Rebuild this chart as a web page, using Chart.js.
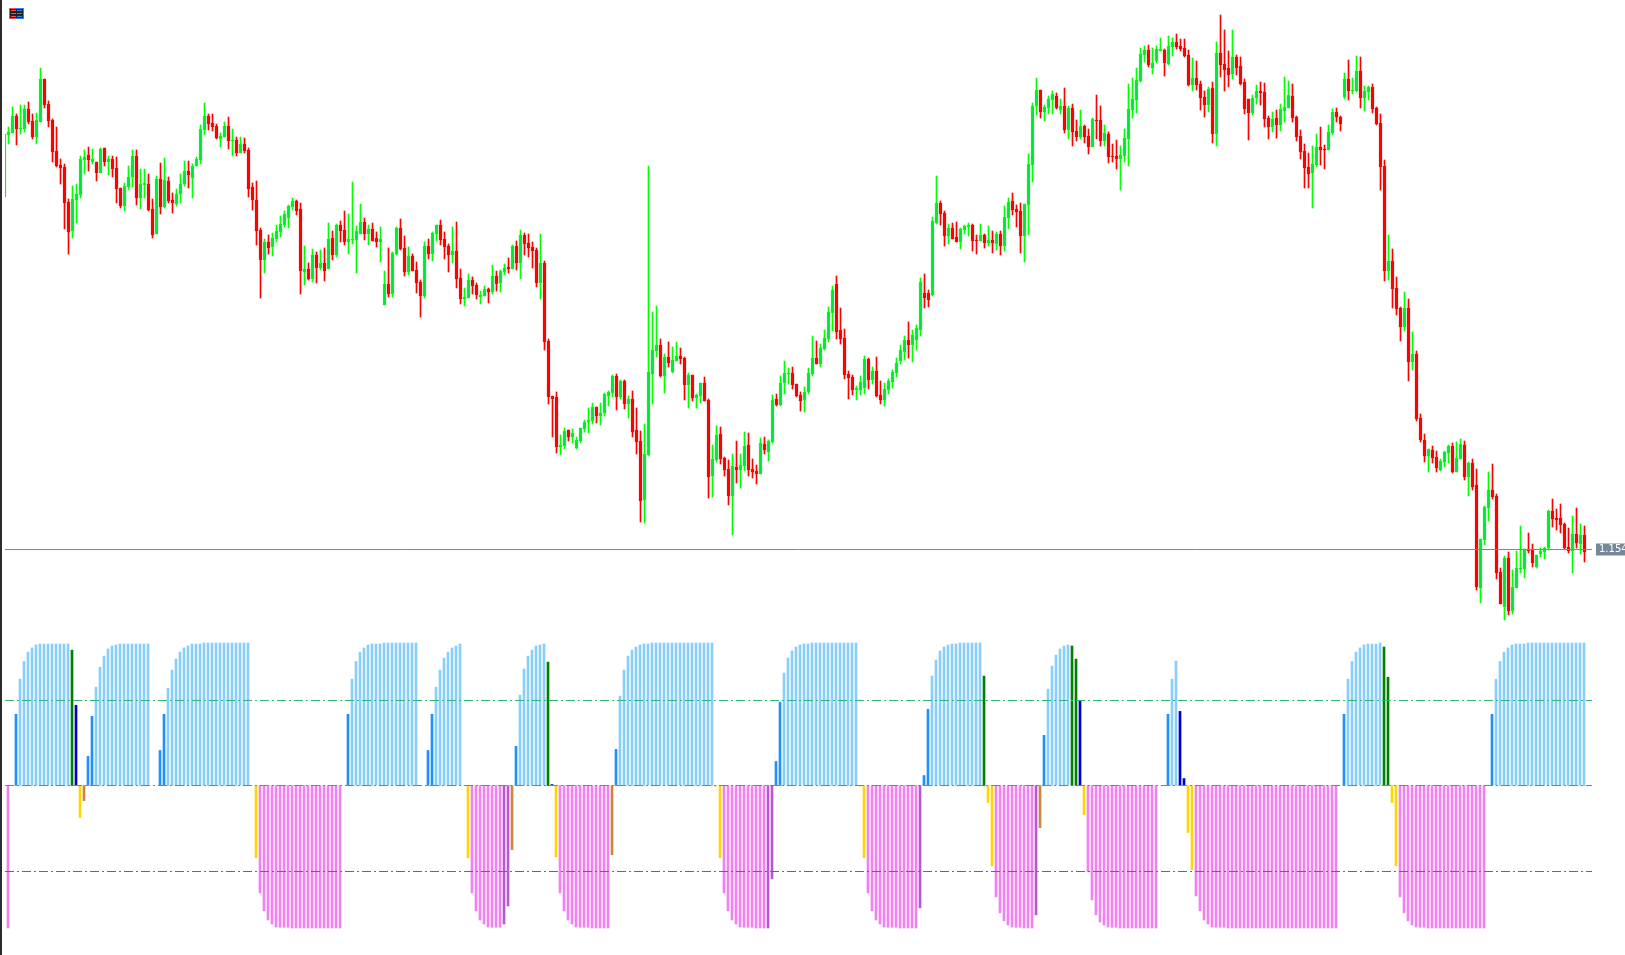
<!DOCTYPE html>
<html>
<head>
<meta charset="utf-8">
<title>Candles with oscillator histogram</title>
<script src="https://cdn.jsdelivr.net/npm/chart.js@4/dist/chart.umd.min.js"></script>
<style>
html,body{margin:0;padding:0;background:#fff;overflow:hidden}
#wrap{position:relative;width:1625px;height:955px}
#edge{position:absolute;left:0;top:0;width:2px;height:955px;background:#2b2b2b}
#icon{position:absolute;left:9px;top:8px}
canvas{display:block}
</style>
</head>
<body>
<div id="wrap">
<canvas id="c" width="1625" height="955"></canvas>
<div id="edge"></div>
<svg id="icon" width="15" height="11" viewBox="0 0 15 11">
<rect width="8" height="11" fill="#ff4a4a"/><rect x="7" width="8" height="11" fill="#2a85ff"/>
<rect x="1" y="1" width="13" height="9" fill="#222"/>
<g fill="#ff4a4a"><rect x="2" y="2" width="5" height="1"/><rect x="2" y="5" width="5" height="1"/><rect x="2" y="8" width="5" height="1"/></g>
<g fill="#2a85ff"><rect x="8" y="2" width="5" height="1"/><rect x="8" y="5" width="5" height="1"/><rect x="8" y="8" width="5" height="1"/></g>
</svg>
</div>
<script>
// Prices are in ticks above the last price, 1.1549 (1 tick = 0.00005).
const highs = [
416,423,443,436,445,445,448,436,437,482,
471,449,431,423,391,386,351,364,366,394,
400,403,401,388,402,402,394,394,393,362,
367,384,400,400,381,381,376,351,374,387,
392,373,357,361,376,389,389,386,393,425,
447,436,436,426,417,428,433,421,413,413,
412,402,367,369,322,311,315,317,325,334,
339,345,352,350,347,304,287,301,298,300,
302,327,319,326,329,339,336,368,324,346,
332,325,327,318,323,279,302,298,323,331,
314,303,296,288,270,308,311,318,325,330,
318,306,323,328,281,262,276,273,267,259,
264,262,285,279,280,286,292,305,309,320,
317,316,308,302,316,289,211,154,158,115,
122,120,121,113,122,130,142,147,143,147,
157,159,175,176,170,170,154,159,142,119,
126,384,238,244,211,196,208,203,208,202,
193,177,175,156,167,173,151,105,124,123,
93,90,96,109,96,118,117,91,85,112,
113,110,155,156,174,189,182,183,166,158,
163,182,214,209,206,220,243,264,274,242,
221,179,175,164,174,194,192,183,193,169,
167,171,180,192,205,214,228,220,225,272,
276,260,333,374,349,339,326,327,328,322,
325,327,326,315,326,316,324,319,318,319,
344,352,357,345,347,346,396,447,472,460,
445,454,459,457,451,462,444,446,430,440,
425,421,432,455,444,425,418,406,410,404,
421,466,472,482,502,504,505,502,504,512,
501,514,512,516,511,511,500,492,489,469,
459,463,468,508,535,520,499,520,495,493,
471,451,455,465,468,467,434,438,440,446,
473,469,466,434,420,406,397,404,416,423,
405,425,441,442,434,477,490,472,494,493,
464,464,466,443,436,390,315,301,273,243,
258,251,218,199,136,116,101,104,99,91,
99,105,107,108,111,109,88,91,81,11,
44,78,86,56,-18,-6,-2,-20,-1,24,
1,17,6,-5,2,3,40,51,41,46,
27,22,34,42,26,24];
const opens = [
353,415,417,434,421,421,441,429,413,428,
471,446,430,399,385,383,348,319,350,355,
390,395,388,388,377,402,388,391,382,362,
344,363,373,394,352,365,366,341,316,371,
343,369,350,346,356,366,379,372,384,390,
420,434,427,424,411,413,424,409,410,397,
406,400,363,350,320,290,308,303,311,318,
325,332,343,349,341,278,281,271,295,282,
287,281,312,295,325,320,308,310,310,316,
328,316,321,312,308,245,266,256,296,322,
302,278,294,280,268,254,304,296,316,325,
311,304,295,299,272,251,252,270,265,253,
254,261,258,274,267,278,283,281,304,287,
315,307,303,300,267,287,209,154,153,103,
104,120,113,102,109,121,128,129,143,134,
137,154,157,174,153,169,146,151,120,109,
50,95,176,199,205,174,193,178,189,194,
192,165,175,152,154,167,150,74,90,116,
92,81,54,83,80,84,105,81,79,76,
106,98,108,151,145,167,176,177,166,155,
150,158,176,192,186,201,211,237,266,220,
212,176,173,160,160,162,191,170,179,155,
150,160,168,177,189,198,210,205,210,220,
257,257,255,327,347,337,314,322,313,308,
320,323,325,310,309,315,307,310,306,316,
304,332,349,341,339,314,345,385,444,460,
438,442,450,454,440,444,420,442,419,413,
424,414,403,430,430,409,416,394,394,391,
394,411,440,450,469,495,500,482,489,499,
500,486,503,508,504,502,495,465,472,466,
453,445,462,416,497,486,482,476,493,484,
468,451,437,452,459,458,432,423,432,425,
439,442,454,433,414,399,383,377,385,403,
401,400,417,438,433,453,471,459,459,479,
452,458,463,442,427,384,279,289,262,242,
223,242,188,196,132,110,94,100,93,80,
88,97,104,78,91,105,73,87,65,-38,
10,42,60,54,-22,-57,-8,-61,-38,-19,
-19,1,1,-17,-4,-2,2,39,32,32,
26,3,-1,16,6,15];
const closes = [
416,418,434,421,422,441,428,413,430,471,
445,429,398,384,382,347,318,351,356,391,
393,390,391,377,401,388,391,381,361,344,
364,373,394,352,366,367,340,315,371,343,
370,349,347,356,366,379,375,384,391,421,
434,426,423,412,414,424,409,410,397,406,
399,361,350,319,290,308,302,312,319,326,
336,344,349,339,279,281,271,295,282,287,
279,311,295,325,319,308,311,311,319,328,
316,321,309,308,311,266,256,297,322,301,
278,294,279,267,254,304,296,317,325,310,
303,295,299,271,251,253,270,264,255,255,
261,258,274,266,279,282,281,304,287,315,
306,302,299,267,287,208,153,151,103,105,
119,113,117,110,122,128,130,143,134,137,
156,158,174,153,169,146,151,118,108,49,
96,178,200,205,174,193,187,190,194,191,
165,175,152,155,167,149,73,91,115,91,
80,54,84,80,85,104,80,78,76,107,
100,109,150,145,167,177,177,165,154,149,
158,177,192,186,202,212,238,260,218,211,
175,172,160,162,168,191,170,179,154,150,
161,169,178,187,200,210,205,215,222,268,
252,250,329,347,336,314,322,311,308,321,
324,325,309,309,315,307,310,307,316,304,
333,348,340,338,314,346,386,444,460,438,
443,451,456,442,444,420,442,418,413,424,
413,403,431,429,409,417,393,393,391,395,
412,441,451,470,496,500,485,487,501,501,
487,504,508,503,501,494,465,472,465,452,
445,461,416,497,485,480,475,493,482,466,
441,437,452,459,457,431,423,431,425,441,
443,455,432,413,398,382,376,386,403,400,
400,418,438,433,426,471,459,460,479,452,
459,463,441,426,383,279,289,261,241,223,
242,188,196,131,110,94,101,92,82,89,
98,104,78,92,106,73,87,63,-37,11,
43,60,53,-23,-54,-8,-61,-37,-18,-18,
1,-1,-13,-5,-1,2,39,31,30,25,
2,-1,16,7,15,-2];
const lows = [
353,406,417,405,416,418,426,411,406,428,
442,423,388,383,366,321,296,312,327,352,
376,379,386,369,377,384,375,373,347,342,
339,360,363,345,341,352,339,312,316,336,
342,347,337,344,347,364,362,352,384,386,
415,420,419,411,403,413,401,394,394,397,
397,353,340,305,252,277,296,294,308,313,
323,322,340,335,256,265,270,268,267,280,
269,281,290,293,308,305,296,306,277,316,
310,305,309,303,288,245,253,253,295,300,
274,275,279,257,233,252,291,289,309,305,
291,278,287,262,246,244,252,256,251,246,
254,247,256,259,258,275,277,281,280,271,
295,293,282,263,251,200,146,113,97,95,
101,109,107,101,107,118,117,126,127,125,
134,144,153,140,151,141,132,113,96,28,
27,94,146,193,173,157,183,177,189,186,
150,142,149,142,147,149,52,53,88,86,
74,45,15,67,62,79,74,72,66,76,
96,89,107,144,144,156,166,161,153,139,
138,156,174,186,183,200,208,219,211,206,
171,151,155,150,155,156,161,166,153,146,
144,156,162,173,186,190,192,188,200,214,
242,243,254,326,325,304,306,311,308,301,
316,314,299,296,309,302,304,297,300,295,
299,321,335,323,297,288,315,368,435,432,
429,436,436,441,436,417,411,404,409,411,
407,396,403,411,404,404,387,388,381,360,
388,384,432,437,468,488,483,476,487,499,
474,485,494,501,499,493,464,459,460,440,
433,438,407,404,473,459,463,471,475,465,
436,410,435,446,445,423,411,418,412,419,
428,442,428,409,391,362,362,342,383,385,
381,400,415,428,419,451,450,456,458,442,
439,450,437,425,360,269,270,242,235,209,
219,169,180,129,108,88,78,87,78,79,
83,87,77,78,91,70,54,60,-40,-53,
5,29,51,-29,-54,-70,-65,-64,-38,-23,
-28,-3,-17,-18,-7,-9,0,23,20,17,
1,-3,-23,2,-4,-12];

const histValues = [
null,-100,null,50,74.6,87,93.6,96.5,98.6,99.3,
99.3,99.3,99.3,99.3,99.3,99.3,99.3,95,56.3,-22.3,
-10.6,20.4,48.6,69,83,90.8,95.8,97.9,98.6,99.3,
99.3,99.3,99.3,99.3,99.3,99.3,99.3,null,null,24.6,
50,68.3,81,88.7,93.6,96.5,97.9,99.3,99.3,99.3,
100,100,100,100,100,100,100,100,100,100,
100,100,null,-50.7,-75.4,-88,-94.4,-97.2,-99.3,-99.5,
-99.5,-99.5,-100,-100,-100,-100,-100,-100,-100,-100,
-100,-100,-100,-100,-100,null,50,74.6,87,93.6,
96.5,98.6,99.3,99.3,99.3,100,100,100,100,100,
100,100,100,100,null,null,24.6,50,69,81,
89.4,93.6,96.5,97.9,99.3,null,-50.7,-75.4,-88,-94.4,
-97.2,-99.3,-99.5,-99.5,-99.5,-97.2,-84.5,-45,27.5,63.4,
81.7,90.8,95,97.9,98.6,99.3,86.6,0.7,-50,-75.4,
-88,-94.4,-97.2,-99.3,-99.5,-99.5,-99.5,-100,-100,-100,
-100,-100,-48.6,25.4,62.7,81,90.8,95,97.2,98.6,
99.3,99.3,100,100,100,100,100,100,100,100,
100,100,100,100,100,100,100,100,-0.5,-50.7,
-75.4,-88,-94.4,-97.2,-99.3,-99.5,-99.5,-99.5,-100,-100,
-100,-100,-65.5,16.9,58.5,78.9,89.4,94.4,97.2,98.6,
99.3,99.3,100,100,100,100,100,100,100,100,
100,100,100,100,-0.5,-50.7,-75.4,-88,-94.4,-97.2,
-99.3,-99.5,-99.5,-99.5,-100,-100,-100,-100,-100,-85.9,
7,53.5,76.8,88,94.4,97.2,98.6,99.3,99.3,100,
100,100,100,100,100,76.8,-12,-56.3,-78.2,-89.4,
-95,-97.9,-99.3,-99.5,-99.5,-100,-100,-100,-90.8,-29.6,
35.2,67.6,83.8,91.5,95.8,97.9,98.6,97.9,88.7,59.2,
-20.4,-60.6,-80.3,-90.8,-95.8,-97.9,-99.3,-99.5,-99.5,-100,
-100,-100,-100,-100,-100,-100,-100,-100,-100,null,
null,50,74.6,87.3,52,4.9,-33,-59,-77.5,-88,
-94.4,-97.2,-99.3,-99.5,-99.5,-99.5,-100,-100,-100,-100,
-100,-100,-100,-100,-100,-100,-100,-100,-100,-100,
-100,-100,-100,-100,-100,-100,-100,-100,-100,-100,
-100,-100,-100,-100,null,50,74.6,87,93.6,96.5,
98.6,99.3,99.3,99.3,100,97.2,76,-12,-56.3,-78.2,
-89.4,-95,-97.9,-99.3,-99.5,-99.5,-100,-100,-100,-100,
-100,-100,-100,-100,-100,-100,-100,-100,-100,-100,
-100,null,50,74.6,87,93.6,96.5,98.6,99.3,99.3,
99.3,100,100,100,100,100,100,100,100,100,
100,100,100,100,100,100];
const histStates = [
".v.baaaaaa","aaaaaaagmy","pbbaaaaaaa","aaaaaaa..b","baaaaaaaaa","aaaaaaaaaa","aa.yvvvvvv","vvvvvvvvvv",
"vvvvv.baaa","aaaaaaaaaa","aaaa..bbaa","aaaaa.yvvv","vvvvvoopba","aaaaaagmyv","vvvvvvvvvv","vvpbaaaaaa",
"aaaaaaaaaa","aaaaaaaayy","vvvvvvvvvv","voobbaaaaa","aaaaaaaaaa","aaaayyvvvv","vvvvvvvvvo","bbaaaaaaaa",
"aaaaagyyvv","vvvvvvvvop","baaaaaaggm","yvvvvvvvvv","vvvvvvvvv.",".baammyyvv","vvvvvvvvvv","vvvvvvvvvv",
"vvvvvvvvvv","vvvv.baaaa","aaaaaggyyv","vvvvvvvvvv","vvvvvvvvvv","v.baaaaaaa","aaaaaaaaaa","aaaaaa"].join("");
const stateColors = {a:"#87CEFA",b:"#1E90FF",g:"#008000",m:"#0000CD",y:"#FFD700",p:"#CD853F",v:"#EE82EE",o:"#BA55D3"};

const lastPriceTick = 0.5;
const tickLabels = ["1.1549"];
const upperLevel = 59.65, zeroLevel = 0, lowerLevel = -60.35;
const lineStart = 0.125, lineEnd = 396.875;

const idx = highs.map((_, i) => i);
const isUp = i => closes[i] >= opens[i];
const hline = (y, color, dash, axis) => ({
  type: "line", order: 0, xAxisID: "x", yAxisID: axis,
  data: [{x: lineStart, y}, {x: lineEnd, y}],
  borderColor: color, borderWidth: 1, borderDash: dash, pointRadius: 0, fill: false, tension: 0
});

new Chart(document.getElementById("c"), {
  type: "bar",
  data: {
    datasets: [
      { label: "Body", order: 1, xAxisID: "x", yAxisID: "y", clip: 0,
        data: idx.map(i => ({x: i, y: [opens[i], closes[i]]})),
        barThickness: 3, grouped: false, borderWidth: 1, borderSkipped: false,
        backgroundColor: idx.map(i => isUp(i) ? "#00E63C" : "#FF0000"),
        borderColor: idx.map(i => isUp(i) ? "#00FF00" : "#FF0000") },
      { label: "Wick", order: 2, xAxisID: "x", yAxisID: "y", clip: 0,
        data: idx.map(i => ({x: i, y: [lows[i], highs[i]]})),
        barThickness: 1, grouped: false, borderWidth: 0,
        backgroundColor: idx.map(i => i === 0 ? "rgba(0,0,0,0)" : (isUp(i) ? "#00FF00" : "#FF0000")) },
      { label: "Oscillator", order: 3, xAxisID: "xh", yAxisID: "yh",
        data: idx.filter(i => histValues[i] !== null).map(i => ({x: i, y: histValues[i]})),
        barThickness: 2, grouped: false, borderWidth: 0,
        backgroundColor: idx.filter(i => histValues[i] !== null).map(i => stateColors[histStates[i]]) },
      hline(upperLevel, "#2EB872", [9, 3, 2, 3], "yh"),
      hline(zeroLevel, "#808080", [9, 3, 2, 3], "yh"),
      hline(lowerLevel, "#FF00FF", [9, 3, 2, 3], "yh"),
      hline(lastPriceTick, "#778899", [], "y")
    ]
  },
  options: {
    responsive: false,
    animation: false,
    devicePixelRatio: 1,
    layout: { padding: { left: 5, right: 0, top: 0, bottom: 0 } },
    plugins: { legend: { display: false }, tooltip: { enabled: false } },
    scales: {
      x:  { type: "linear", offset: false, min: 0.125, max: 405.125, display: false },
      xh: { type: "linear", offset: false, min: 0.25, max: 405.25, display: false },
      y: {
        type: "linear", position: "right", min: -405, max: 550,
        grid: { display: false, drawTicks: false }, border: { display: false },
        afterFit: s => { s.width = 0; s.paddingTop = 0; s.paddingBottom = 0; },
        afterBuildTicks: s => { s.ticks = [{ value: lastPriceTick }]; },
        ticks: {
          mirror: true, padding: 9, autoSkip: false,
          callback: () => tickLabels[0],
          color: "#FFFFFF", font: { family: "'DejaVu Sans'", size: 10 },
          showLabelBackdrop: true, backdropColor: "#778899",
          backdropPadding: { top: 0, bottom: 0, left: 3, right: 3 }
        }
      },
      yh: { type: "linear", offset: false, min: -118.9474, max: 551.2281, display: false }
    }
  }
});
</script>
</body>
</html>
